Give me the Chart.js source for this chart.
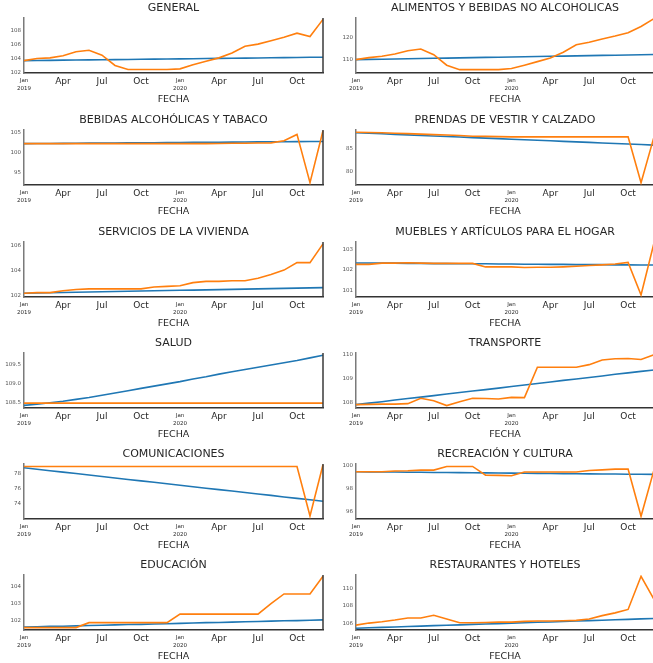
<!DOCTYPE html>
<html>
<head>
<meta charset="utf-8">
<script src="https://cdn.jsdelivr.net/npm/chart.js@4.4.1/dist/chart.umd.min.js"></script>
<style>
  html, body { margin: 0; padding: 0; background: #fff; overflow: hidden; width: 653px; height: 663px; }
  canvas { position: absolute; }
</style>
</head>
<body>
<script>
// Meses (ene 2019 - dic 2020)
const fechas = ['2019-01','2019-02','2019-03','2019-04','2019-05','2019-06','2019-07','2019-08','2019-09','2019-10','2019-11','2019-12',
                '2020-01','2020-02','2020-03','2020-04','2020-05','2020-06','2020-07','2020-08','2020-09','2020-10','2020-11','2020-12'];
const etiquetasX = [['Jan','2019'],'','','Apr','','','Jul','','','Oct','','',
                    ['Jan','2020'],'','','Apr','','','Jul','','','Oct','',''];

// Serie observada (naranja) y tendencia (azul) de cada grupo
const generalObs = [103.7,104.0,104.1,104.4,105.0,105.2,104.5,103.0,102.4,102.4,102.4,102.4,102.5,103.1,103.6,104.1,104.8,105.8,106.1,106.6,107.1,107.7,107.2,109.7];
const generalTend = [103.70,103.72,103.74,103.77,103.79,103.81,103.83,103.85,103.87,103.90,103.92,103.94,103.96,103.98,104.00,104.03,104.05,104.07,104.09,104.11,104.13,104.16,104.18,104.20];

const alimentosObs = [110.0,110.9,111.5,112.5,114.0,114.8,112.2,107.5,105.5,105.5,105.5,105.5,106.0,107.5,109.1,110.7,113.3,116.7,117.8,119.3,120.6,122.1,124.9,128.4];
const alimentosTend = [110.0,110.1,110.2,110.3,110.4,110.5,110.6,110.7,110.8,110.9,111.0,111.1,111.2,111.3,111.4,111.5,111.6,111.7,111.8,111.9,112.0,112.1,112.2,112.3];

const bebidasObs = [102.2,102.2,102.2,102.2,102.2,102.2,102.2,102.2,102.2,102.2,102.2,102.2,102.2,102.2,102.2,102.25,102.3,102.3,102.35,102.4,102.9,104.5,92.5,105.4];
const bebidasTend = [102.20,102.22,102.25,102.27,102.30,102.32,102.34,102.37,102.39,102.42,102.44,102.46,102.49,102.51,102.54,102.56,102.58,102.61,102.63,102.66,102.68,102.70,102.73,102.75];

const prendasObs = [88.5,88.45,88.4,88.3,88.2,88.1,88.0,87.9,87.8,87.65,87.6,87.55,87.5,87.5,87.5,87.5,87.5,87.5,87.5,87.5,87.5,87.5,77.5,87.5];
const prendasTend = [88.40,88.28,88.17,88.05,87.93,87.81,87.70,87.58,87.46,87.34,87.23,87.11,86.99,86.87,86.76,86.64,86.52,86.40,86.29,86.17,86.05,85.93,85.82,85.70];

const serviciosObs = [102.15,102.2,102.2,102.35,102.45,102.5,102.5,102.5,102.5,102.5,102.65,102.7,102.75,103.0,103.1,103.1,103.15,103.15,103.35,103.65,104.0,104.6,104.6,106.1];
const serviciosTend = [102.15,102.17,102.19,102.21,102.23,102.25,102.27,102.29,102.31,102.33,102.35,102.37,102.39,102.40,102.42,102.44,102.46,102.48,102.50,102.52,102.54,102.56,102.58,102.60];

const mueblesObs = [102.27,102.27,102.33,102.33,102.35,102.33,102.32,102.32,102.32,102.32,102.15,102.15,102.15,102.12,102.13,102.13,102.15,102.18,102.22,102.25,102.29,102.37,100.8,103.3];
const mueblesTend = [102.34,102.34,102.33,102.33,102.32,102.32,102.31,102.31,102.30,102.30,102.30,102.29,102.29,102.28,102.28,102.27,102.27,102.26,102.26,102.26,102.25,102.25,102.24,102.24];

const saludObs = [108.48,108.48,108.48,108.48,108.48,108.48,108.48,108.48,108.48,108.48,108.48,108.48,108.48,108.48,108.48,108.48,108.48,108.48,108.48,108.48,108.48,108.48,108.48,108.48];
const saludTend = [108.42,108.45,108.49,108.53,108.58,108.63,108.69,108.75,108.81,108.87,108.93,108.99,109.05,109.12,109.18,109.25,109.31,109.37,109.43,109.49,109.55,109.61,109.68,109.75];

const transporteObs = [107.92,107.93,107.94,107.94,107.96,108.18,108.08,107.88,108.04,108.18,108.17,108.15,108.22,108.21,109.46,109.46,109.46,109.46,109.57,109.76,109.81,109.82,109.78,109.98];
const transporteTend = [107.92,107.98,108.04,108.11,108.17,108.23,108.29,108.36,108.42,108.48,108.54,108.60,108.67,108.73,108.79,108.85,108.92,108.98,109.04,109.10,109.17,109.23,109.29,109.35];

const comunicacionesObs = [78.97,78.97,78.97,78.97,78.97,78.97,78.97,78.97,78.97,78.97,78.97,78.97,78.97,78.97,78.97,78.97,78.97,78.97,78.97,78.97,78.97,78.97,72.4,79.2];
const comunicacionesTend = [78.80,78.61,78.41,78.22,78.03,77.83,77.64,77.45,77.25,77.06,76.87,76.67,76.48,76.29,76.09,75.90,75.71,75.51,75.32,75.13,74.93,74.74,74.55,74.35];

const recreacionObs = [99.44,99.44,99.44,99.5,99.52,99.58,99.58,99.89,99.89,99.89,99.15,99.13,99.1,99.41,99.41,99.41,99.41,99.41,99.55,99.6,99.66,99.66,95.63,99.6];
const recreacionTend = [99.44,99.43,99.42,99.41,99.40,99.39,99.38,99.37,99.36,99.35,99.34,99.33,99.32,99.31,99.30,99.29,99.28,99.27,99.26,99.25,99.24,99.23,99.22,99.21];

const educacionObs = [101.59,101.59,101.59,101.59,101.59,101.88,101.88,101.88,101.88,101.88,101.88,101.88,102.38,102.38,102.38,102.38,102.38,102.38,102.38,103.0,103.56,103.56,103.56,104.6];
const educacionTend = [101.62,101.64,101.66,101.67,101.69,101.71,101.73,101.75,101.77,101.78,101.80,101.82,101.84,101.86,101.88,101.89,101.91,101.93,101.95,101.97,101.99,102.00,102.02,102.04];

const restaurantesObs = [105.85,106.08,106.23,106.42,106.65,106.65,106.96,106.54,106.12,106.12,106.15,106.19,106.19,106.27,106.31,106.31,106.35,106.38,106.54,106.92,107.23,107.62,111.35,108.76];
const restaurantesTend = [105.50,105.55,105.60,105.64,105.69,105.74,105.79,105.83,105.88,105.93,105.98,106.02,106.07,106.12,106.17,106.21,106.26,106.31,106.36,106.40,106.45,106.50,106.55,106.60];

// Marcas del eje y
const generalTicks = [102, 104, 106, 108];
const alimentosTicks = [110, 120];
const bebidasTicks = [95, 100, 105];
const prendasTicks = [80, 85];
const serviciosTicks = [102, 104, 106];
const mueblesTicks = [101, 102, 103];
const saludTicks = [108.5, 109.0, 109.5];
const transporteTicks = [108, 109, 110];
const comunicacionesTicks = [74, 76, 78];
const recreacionTicks = [96, 98, 100];
const educacionTicks = [102, 103, 104];
const restaurantesTicks = [106, 108, 110];

const paneles = [
  { titulo: 'GENERAL', obs: generalObs, tend: generalTend, ticks: generalTicks, min: 101.9, max: 109.9 },
  { titulo: 'ALIMENTOS Y BEBIDAS NO ALCOHOLICAS', obs: alimentosObs, tend: alimentosTend, ticks: alimentosTicks, min: 104.0, max: 128.7 },
  { titulo: 'BEBIDAS ALCOHÓLICAS Y TABACO', obs: bebidasObs, tend: bebidasTend, ticks: bebidasTicks, min: 91.9, max: 105.6 },
  { titulo: 'PRENDAS DE VESTIR Y CALZADO', obs: prendasObs, tend: prendasTend, ticks: prendasTicks, min: 77.0, max: 89.0 },
  { titulo: 'SERVICIOS DE LA VIVIENDA', obs: serviciosObs, tend: serviciosTend, ticks: serviciosTicks, min: 101.85, max: 106.25 },
  { titulo: 'MUEBLES Y ARTÍCULOS PARA EL HOGAR', obs: mueblesObs, tend: mueblesTend, ticks: mueblesTicks, min: 100.7, max: 103.35 },
  { titulo: 'SALUD', obs: saludObs, tend: saludTend, ticks: saludTicks, min: 108.35, max: 109.81, dec: 1 },
  { titulo: 'TRANSPORTE', obs: transporteObs, tend: transporteTend, ticks: transporteTicks, min: 107.78, max: 110.05 },
  { titulo: 'COMUNICACIONES', obs: comunicacionesObs, tend: comunicacionesTend, ticks: comunicacionesTicks, min: 72.0, max: 79.3 },
  { titulo: 'RECREACIÓN Y CULTURA', obs: recreacionObs, tend: recreacionTend, ticks: recreacionTicks, min: 95.4, max: 100.1 },
  { titulo: 'EDUCACIÓN', obs: educacionObs, tend: educacionTend, ticks: educacionTicks, min: 101.45, max: 104.67 },
  { titulo: 'RESTAURANTES Y HOTELES', obs: restaurantesObs, tend: restaurantesTend, ticks: restaurantesTicks, min: 105.3, max: 111.5 }
];

Chart.defaults.font.family = "'DejaVu Sans', sans-serif";
Chart.defaults.animation = false;

// borde derecho del area (como el spine de matplotlib)
const bordeDerecho = {
  id: 'bordeDerecho',
  afterDatasetsDraw(chart) {
    const { ctx, chartArea: a } = chart;
    ctx.save();
    ctx.strokeStyle = '#3a3a3a';
    ctx.lineWidth = 1.5;
    ctx.beginPath();
    ctx.moveTo(a.right, a.top);
    ctx.lineTo(a.right, a.bottom);
    ctx.stroke();
    ctx.restore();
  }
};

const filaTop = [0, 112, 224, 335, 446, 557];
const fuenteMes = { size: 9, lineHeight: 1.2 };
const fuenteAnio = { size: 5.5, lineHeight: 1.5 };

paneles.forEach((p, k) => {
  const fila = Math.floor(k / 2);
  const col = k % 2;
  const canvas = document.createElement('canvas');
  const ancho = col ? 331 : 326;
  canvas.width = ancho;
  canvas.height = 111;
  canvas.style.left = (col ? 326 : 0) + 'px';
  canvas.style.top = filaTop[fila] + 'px';
  document.body.appendChild(canvas);

  new Chart(canvas, {
    type: 'line',
    data: {
      labels: fechas,
      datasets: [
        { data: p.tend, borderColor: '#1f77b4', borderWidth: 1.6, pointRadius: 0, order: 1 },
        { data: p.obs, borderColor: '#ff7f0e', borderWidth: 1.6, pointRadius: 0, order: 0 }
      ]
    },
    options: {
      responsive: false,
      layout: { padding: { left: 0, right: col ? 2 : 3, top: 0, bottom: 0 } },
      plugins: {
        legend: { display: false },
        tooltip: { enabled: false },
        title: {
          display: true,
          text: p.titulo,
          fullSize: false,
          color: '#262626',
          font: { size: 11, weight: 'normal' },
          padding: { top: 2, bottom: 2.8 }
        }
      },
      scales: {
        x: {
          offset: false,
          grid: { display: false, drawTicks: false },
          border: { display: true, color: '#333', width: 1.5 },
          afterFit: s => { s.height = 38; },
          ticks: {
            autoSkip: false,
            maxRotation: 0,
            padding: 3,
            color: '#262626',
            font: ctx => (ctx.index % 12 === 0 ? fuenteAnio : fuenteMes),
            callback: (v, i) => etiquetasX[i]
          },
          title: {
            display: true,
            text: 'FECHA',
            color: '#262626',
            font: { size: 9.5 },
            padding: { top: 0, bottom: 5.8 }
          }
        },
        y: {
          min: p.min,
          max: p.max,
          grid: { display: false, drawTicks: false },
          border: { display: true, color: '#7a7a7a', width: 1.5 },
          afterFit: s => { s.width = col ? 30 : 24; },
          afterBuildTicks: s => { s.ticks = p.ticks.map(v => ({ value: v })); },
          ticks: {
            padding: 3,
            color: '#555',
            font: { size: 5.5 },
            callback: v => v.toFixed(p.dec || 0)
          }
        }
      }
    },
    plugins: [bordeDerecho]
  });
});
</script>
</body>
</html>
